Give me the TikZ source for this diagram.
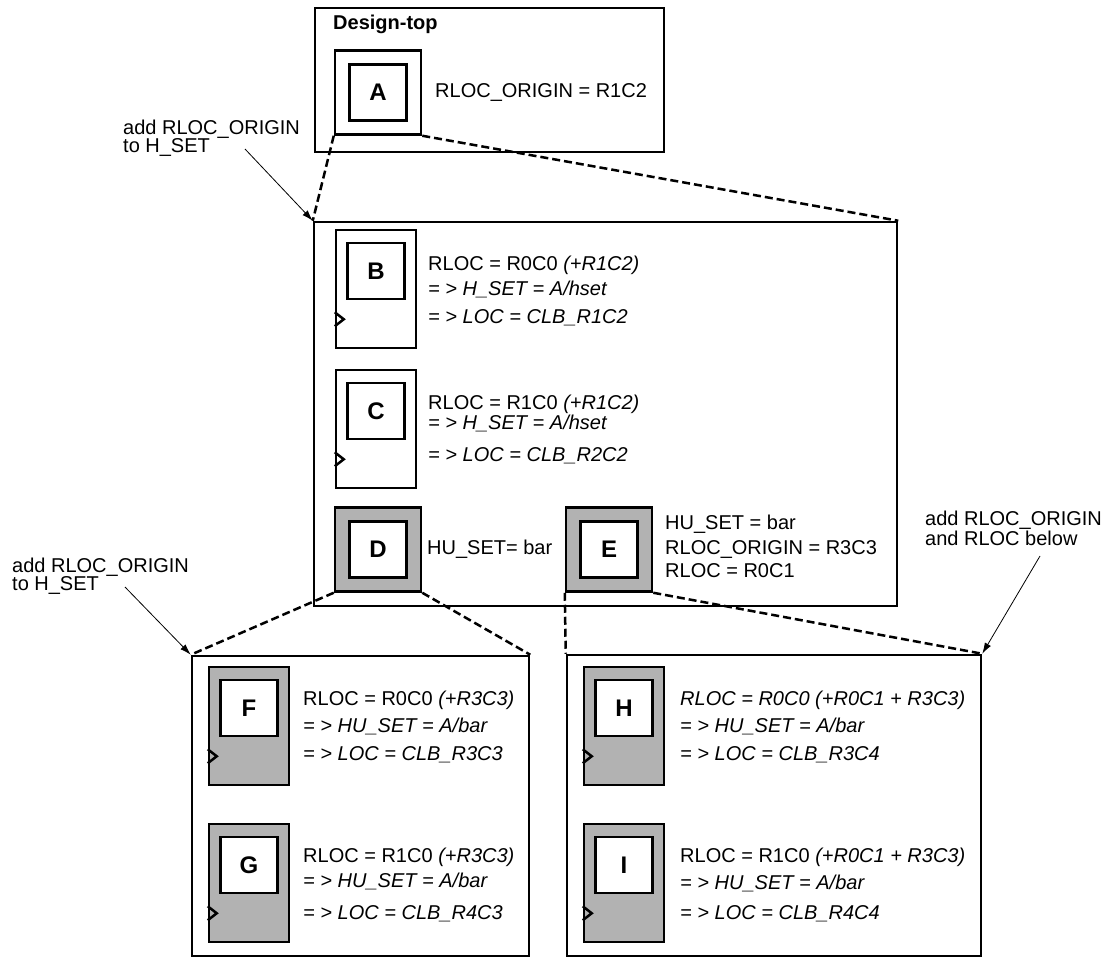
\documentclass[tikz,border=0pt]{standalone}
\usepackage{fontspec}
\setmainfont{Liberation Sans}
\usetikzlibrary{arrows.meta, positioning, calc}

\colorlet{blkgray}{black!30}
\tikzset{
	frame/.style={draw, line width=2.5pt, inner sep=0pt},
	macro/.style={frame, minimum width=86pt, minimum height=84pt},
	ff/.style={frame, minimum width=80pt, minimum height=118pt},
	core/.style={frame, fill=white, minimum width=57pt, minimum height=56pt, font=\fontsize{24}{24}\selectfont\bfseries},
	txt/.style={anchor=base west, inner sep=0pt, font=\fontsize{20}{20}\selectfont},
	zoomline/.style={line width=2.5pt, dash pattern=on 8pt off 4pt},
	note/.style={line width=0.8pt, -{Latex[length=11pt,width=7pt]}},
}

\begin{document}
\begin{tikzpicture}[x=1pt, y=-1pt]
	\useasboundingbox (0,0) rectangle (1114,958);
	
	% Containers
	\node[frame, minimum width=349pt, minimum height=144pt] (top) at (489.5,80) {};
	\node[frame, minimum width=583pt, minimum height=384pt] (mid) at (605.5,414) {};
	\node[frame, minimum width=337pt, minimum height=300pt] (lowL) at (360.5,806) {};
	\node[frame, minimum width=414pt, minimum height=301pt] (lowR) at (774,805.5) {};
	
	% Macro blocks
	\foreach \n/\cx/\cy/\col in {A/378/92.5/white, D/378/549.5/blkgray, E/609/549.5/blkgray}{
		\node[macro, fill=\col] (blk\n) at (\cx,\cy) {};
		\node[core] (\n) at (blk\n.center) {\n};
	}
	
	% Flip-flops with clock pin
	\foreach \n/\cx/\cy/\col in {B/376/289/white, C/376/429/white, F/249/726/blkgray,
		G/249/883/blkgray, H/624/726/blkgray, I/624/883/blkgray}{
		\node[ff, fill=\col] (blk\n) at (\cx,\cy) {};
		\node[core, below=13pt of blk\n.north] (\n) {\n};
		\draw[line width=2.5pt] ($(blk\n.south west)+(0,-37)$) -- ++(9,7) -- ++(-9,7);
	}
	
	% Zoom lines
	\draw[zoomline] (blkA.south west) -- (mid.north west);
	\draw[zoomline] (blkA.south east) -- (mid.north east);
	\draw[zoomline] (blkD.south west) -- (lowL.north west);
	\draw[zoomline] (blkD.south east) -- (lowL.north east);
	\draw[zoomline] (blkE.south west) -- (lowR.north west);
	\draw[zoomline] (blkE.south east) -- (lowR.north east);
	
	% Top level
	\node[txt, font=\fontsize{20}{20}\selectfont\bfseries] (title) at (333,30) {Design-top};
	\node[txt] (origA) at (435,97) {RLOC\_ORIGIN = R1C2};
	
	% Middle level
	\node[txt] (B1) at (428,270) {RLOC = R0C0 \textit{(+R1C2)}};
	\node[txt] (B2) at (428,295) {\textit{= > H\_SET = A/hset}};
	\node[txt] (B3) at (428,323) {\textit{= > LOC = CLB\_R1C2}};
	\node[txt] (C1) at (428,409) {RLOC = R1C0 \textit{(+R1C2)}};
	\node[txt] (C2) at (428,429) {\textit{= > H\_SET = A/hset}};
	\node[txt] (C3) at (428,461) {\textit{= > LOC = CLB\_R2C2}};
	\node[txt] (D1) at (427,554) {HU\_SET= bar};
	\node[txt] (E1) at (665,529) {HU\_SET = bar};
	\node[txt] (E2) at (665,554) {RLOC\_ORIGIN = R3C3};
	\node[txt] (E3) at (665,577) {RLOC = R0C1};
	
	% Bottom level
	\node[txt] (F1) at (303,705) {RLOC = R0C0 \textit{(+R3C3)}};
	\node[txt] (F2) at (303,732) {\textit{= > HU\_SET = A/bar}};
	\node[txt] (F3) at (303,760) {\textit{= > LOC = CLB\_R3C3}};
	\node[txt] (G1) at (303,862) {RLOC = R1C0 \textit{(+R3C3)}};
	\node[txt] (G2) at (303,887) {\textit{= > HU\_SET = A/bar}};
	\node[txt] (G3) at (303,919) {\textit{= > LOC = CLB\_R4C3}};
	\node[txt] (H1) at (680,705) {\textit{RLOC = R0C0 (+R0C1 + R3C3)}};
	\node[txt] (H2) at (680,732) {\textit{= > HU\_SET = A/bar}};
	\node[txt] (H3) at (680,760) {\textit{= > LOC = CLB\_R3C4}};
	\node[txt] (I1) at (680,862) {RLOC = R1C0 \textit{(+R0C1 + R3C3)}};
	\node[txt] (I2) at (680,889) {\textit{= > HU\_SET = A/bar}};
	\node[txt] (I3) at (680,919) {\textit{= > LOC = CLB\_R4C4}};
	
	% Notes
	\node[txt] (noteA1) at (123,134) {add RLOC\_ORIGIN};
	\node[txt] (noteA2) at (123,152) {to H\_SET};
	\node[txt] (noteD1) at (12,572) {add RLOC\_ORIGIN};
	\node[txt] (noteD2) at (12,590) {to H\_SET};
	\node[txt] (noteE1) at (925,525) {add RLOC\_ORIGIN};
	\node[txt] (noteE2) at (925,545) {and RLOC below};
	\coordinate (fromA) at (245,149);
	\coordinate (fromD) at (125,587);
	\coordinate (fromE) at (1040,556);
	\draw[note] (fromA) -- (mid.north west);
	\draw[note] (fromD) -- (lowL.north west);
	\draw[note] (fromE) -- (lowR.north east);
	
\end{tikzpicture}
\end{document}
